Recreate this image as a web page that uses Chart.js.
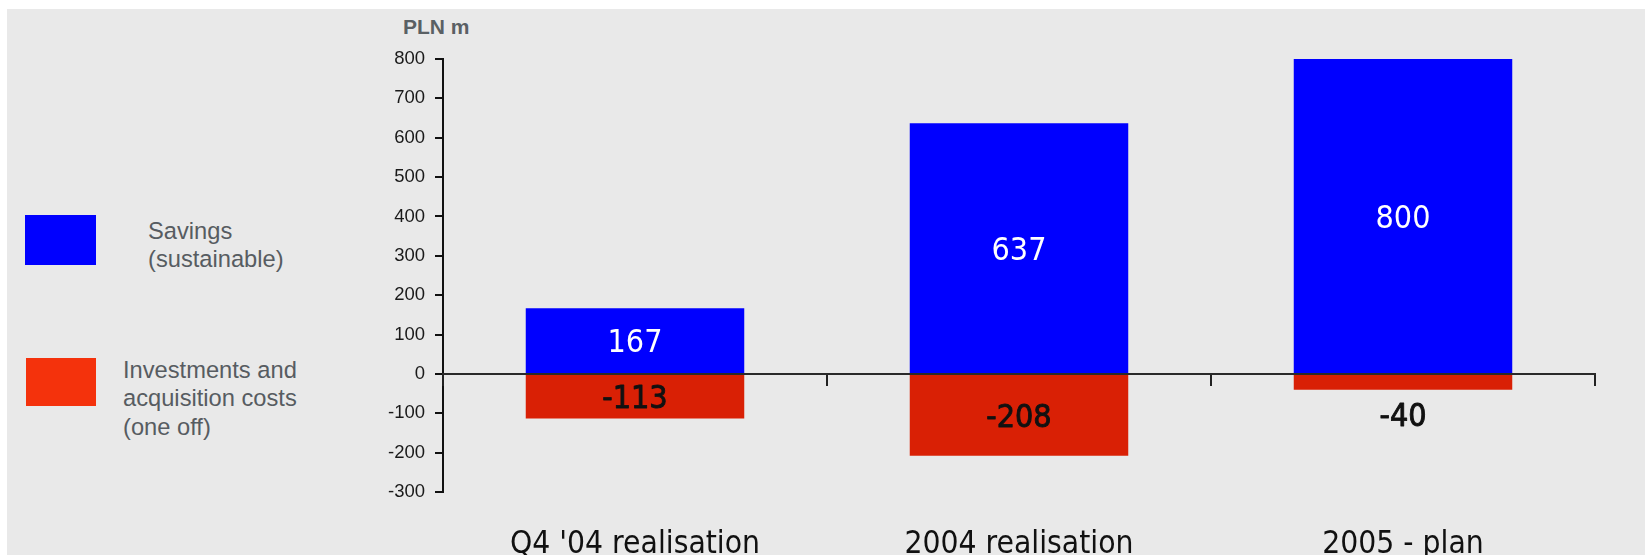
<!DOCTYPE html>
<html>
<head>
<meta charset="utf-8">
<script src="https://cdn.jsdelivr.net/npm/chart.js@4/dist/chart.umd.min.js"></script>
<style>
  html, body { margin: 0; padding: 0; background: #ffffff; }
  body { width: 1645px; height: 555px; position: relative; overflow: hidden; }
  #panel { position: absolute; left: 7px; top: 9px; right: 0; bottom: 0; background: #e9e9e9; }
  #wrap { position: absolute; left: 0; top: 0; width: 1645px; height: 555px; }
  .unit { position: absolute; left: 403px; top: 15.5px; font: bold 21px "Liberation Sans", Arial, sans-serif;
          line-height: 21px; color: #5a6064; white-space: nowrap; }
  .swatch { position: absolute; }
  .keytext { position: absolute; font: 23.7px "Liberation Sans", Arial, sans-serif; color: #575c61; white-space: nowrap; }
</style>
</head>
<body>
<div id="panel"></div>
<div class="unit">PLN m</div>
<div id="legend"></div>
<div id="wrap"><canvas id="chart" width="1645" height="555"></canvas></div>
<script>
// Categories and series (PLN m)
const categories = ["Q4 '04 realisation", "2004 realisation", "2005 - plan"];
const savings = [167, 637, 800];
const investments = [-113, -208, -40];
const seriesNames = [["Savings", "(sustainable)"], ["Investments and", "acquisition costs", "(one off)"]];
const yMin = -300, yMax = 800, yStep = 100;

const BLUE = '#0000ff';
const RED_BAR = '#d92005';
const RED_KEY = '#f4320c';

// Key on the left: swatch + multi-line caption
const legend = document.getElementById('legend');
const keyRows = [
  { box: { left: 25, top: 215, w: 71, h: 50 }, color: BLUE, text: { left: 148, top: 217, lh: 28 }, lines: seriesNames[0] },
  { box: { left: 26, top: 358, w: 70, h: 48 }, color: RED_KEY, text: { left: 123, top: 356, lh: 28.4 }, lines: seriesNames[1] }
];
keyRows.forEach(r => {
  const sw = document.createElement('div');
  sw.className = 'swatch';
  Object.assign(sw.style, { left: r.box.left + 'px', top: r.box.top + 'px', width: r.box.w + 'px', height: r.box.h + 'px', background: r.color });
  legend.appendChild(sw);
  const tx = document.createElement('div');
  tx.className = 'keytext';
  Object.assign(tx.style, { left: r.text.left + 'px', top: r.text.top + 'px', lineHeight: r.text.lh + 'px' });
  tx.innerHTML = r.lines.join('<br>');
  legend.appendChild(tx);
});

// Value labels centred in each bar; short bars get the label underneath
const LABEL_SIZE = 32;
const valueLabels = {
  id: 'valueLabels',
  afterDatasetsDraw(chart) {
    const ctx = chart.ctx;
    ctx.save();
    ctx.font = LABEL_SIZE + 'px "DejaVu Sans Condensed", "DejaVu Sans", sans-serif';
    ctx.textAlign = 'center';
    ctx.textBaseline = 'alphabetic';
    ctx.lineJoin = 'round';
    chart.data.datasets.forEach((ds, di) => {
      const meta = chart.getDatasetMeta(di);
      meta.data.forEach((bar, i) => {
        const v = ds.data[i];
        const p = bar.getProps(['x', 'y', 'base'], true);
        const h = Math.abs(p.base - p.y);
        let cy, color;
        if (h >= 30) {
          cy = (p.y + p.base) / 2;
          color = ds.labelColor;
        } else {
          cy = Math.max(p.y, p.base) + 25;
          color = '#111111';
        }
        const ty = cy + 0.365 * LABEL_SIZE;
        ctx.fillStyle = color;
        ctx.fillText(String(v), p.x, ty);
        if (ds.labelWeight) {
          // slightly heavier strokes for the dark cost labels
          ctx.strokeStyle = color;
          ctx.lineWidth = ds.labelWeight;
          ctx.strokeText(String(v), p.x, ty);
        }
      });
    });
    ctx.restore();
  }
};

new Chart(document.getElementById('chart'), {
  type: 'bar',
  data: {
    labels: categories,
    datasets: [
      { label: seriesNames[0].join(' '), data: savings, backgroundColor: BLUE, labelColor: '#ffffff',
        xAxisID: 'x', yAxisID: 'y', barPercentage: 0.569, categoryPercentage: 1.0, borderWidth: 0 },
      { label: seriesNames[1].join(' '), data: investments, backgroundColor: RED_BAR, labelColor: '#111111', labelWeight: 0.9,
        xAxisID: 'x', yAxisID: 'y', barPercentage: 0.569, categoryPercentage: 1.0, borderWidth: 0 }
    ]
  },
  options: {
    responsive: false,
    animation: false,
    layout: { padding: { left: 343, right: 50, top: 59, bottom: 0 } },
    plugins: { legend: { display: false }, tooltip: { enabled: false } },
    scales: {
      x: {
        stacked: true,
        offset: true,
        grid: { display: false, offset: true, drawTicks: false },
        border: { display: false },
        ticks: {
          font: { family: '"DejaVu Sans Condensed", "DejaVu Sans", sans-serif', size: 31.5 },
          color: '#111111', padding: 34, maxRotation: 0, autoSkip: false
        },
        afterFit(s) { s.height = 63; }
      },
      x0: {
        type: 'category',
        position: { y: 0 },
        offset: true,
        grid: { offset: true, drawOnChartArea: false, drawTicks: true, tickLength: 11, color: '#222222', lineWidth: 2, z: 1 },
        border: { display: true, color: '#2a2a2a', width: 2, z: 1 },
        ticks: { display: false },
        afterFit(s) { s.height = 0; }
      },
      y: {
        stacked: true,
        min: yMin,
        max: yMax,
        ticks: {
          stepSize: yStep,
          font: { family: '"Liberation Sans", Arial, sans-serif', size: 18.5 },
          color: '#1a1a1a', padding: 10
        },
        grid: { drawOnChartArea: false, drawTicks: true, tickLength: 8, color: '#111111', lineWidth: 2 },
        border: { display: true, color: '#111111', width: 2 },
        afterFit(s) { s.width = 100; }
      }
    }
  },
  plugins: [valueLabels]
});
</script>
</body>
</html>
